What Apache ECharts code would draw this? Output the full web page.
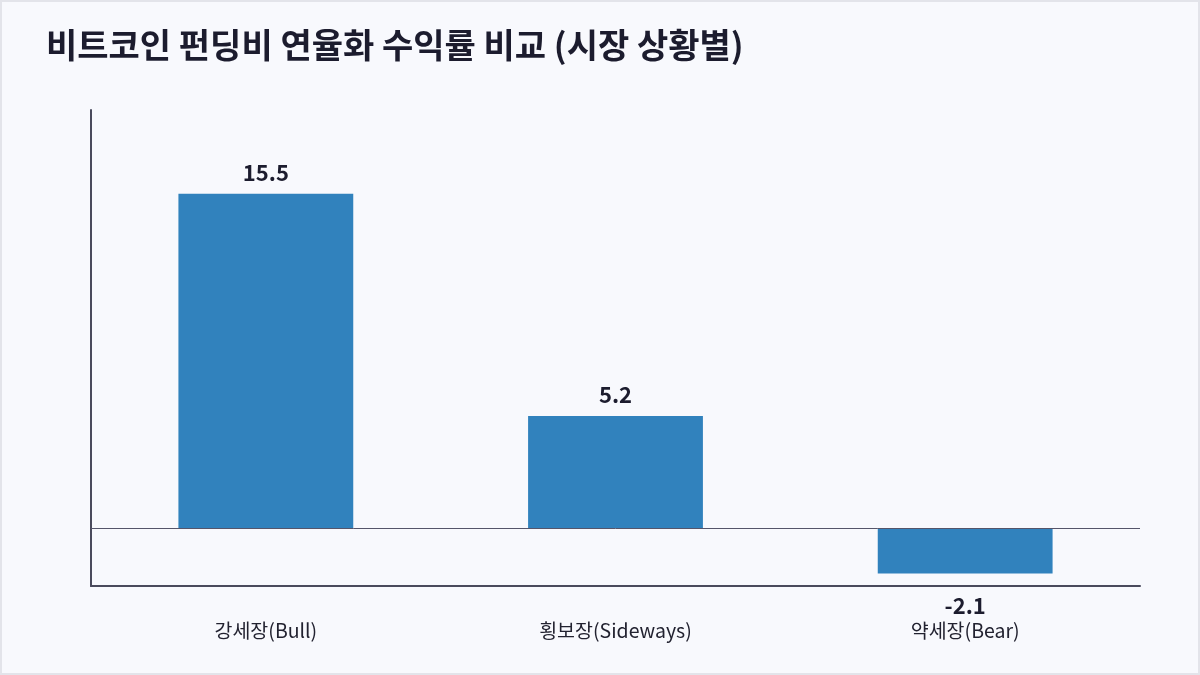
<!DOCTYPE html>
<html>
<head>
<meta charset="utf-8">
<script src="https://cdn.jsdelivr.net/npm/echarts@6/dist/echarts.min.js"></script>
<style>
  html, body { margin: 0; padding: 0; background: #f8f9fd; }
  #chart { width: 1200px; height: 675px; box-sizing: border-box; border: 2px solid #e3e4ea; background: #f8f9fd; }
</style>
</head>
<body>
<div id="chart"></div>
<script>
var categories = ['강세장(Bull)', '횡보장(Sideways)', '약세장(Bear)'];
var values = [15.5, 5.2, -2.1];

var font = '"Noto Sans CJK KR", "Noto Sans", sans-serif';
var chart = echarts.init(document.getElementById('chart'));

// 음수 막대는 라벨을 아래쪽에
var barData = values.map(function (v) {
  return {
    value: v,
    label: v < 0 ? { position: 'bottom', distance: 21 } : { position: 'top', distance: 10 }
  };
});

var option = {
  backgroundColor: '#f8f9fd',
  animation: false,
  title: {
    text: '비트코인 펀딩비 연율화 수익률 비교 (시장 상황별)',
    left: 39,
    top: 21,
    textStyle: { fontFamily: font, fontSize: 34, fontWeight: 'bold', color: '#1c1c2e' }
  },
  grid: { left: 89, right: 58, top: 108, bottom: 87 },
  xAxis: {
    type: 'category',
    data: categories,
    axisLine: { onZero: false, lineStyle: { color: '#4a4a5c', width: 2 } },
    axisTick: { show: false },
    axisLabel: { margin: 35, fontFamily: font, fontSize: 19.5, color: '#222230' }
  },
  yAxis: {
    type: 'value',
    min: -2.68,
    max: 19.375,
    axisLine: { show: true, onZero: false, lineStyle: { color: '#4a4a5c', width: 2 } },
    axisTick: { show: false },
    axisLabel: { show: false },
    splitLine: { show: false }
  },
  series: [{
    type: 'bar',
    data: barData,
    barWidth: '50%',
    itemStyle: { color: '#3182bd' },
    label: {
      show: true,
      fontFamily: font,
      fontSize: 22,
      fontWeight: 'bold',
      color: '#1c1c2e'
    },
    markLine: {
      silent: true,
      symbol: 'none',
      label: { show: false },
      lineStyle: { color: '#55556a', width: 1, type: 'solid' },
      data: [{ yAxis: 0 }]
    }
  }]
};

chart.setOption(option);
</script>
</body>
</html>
